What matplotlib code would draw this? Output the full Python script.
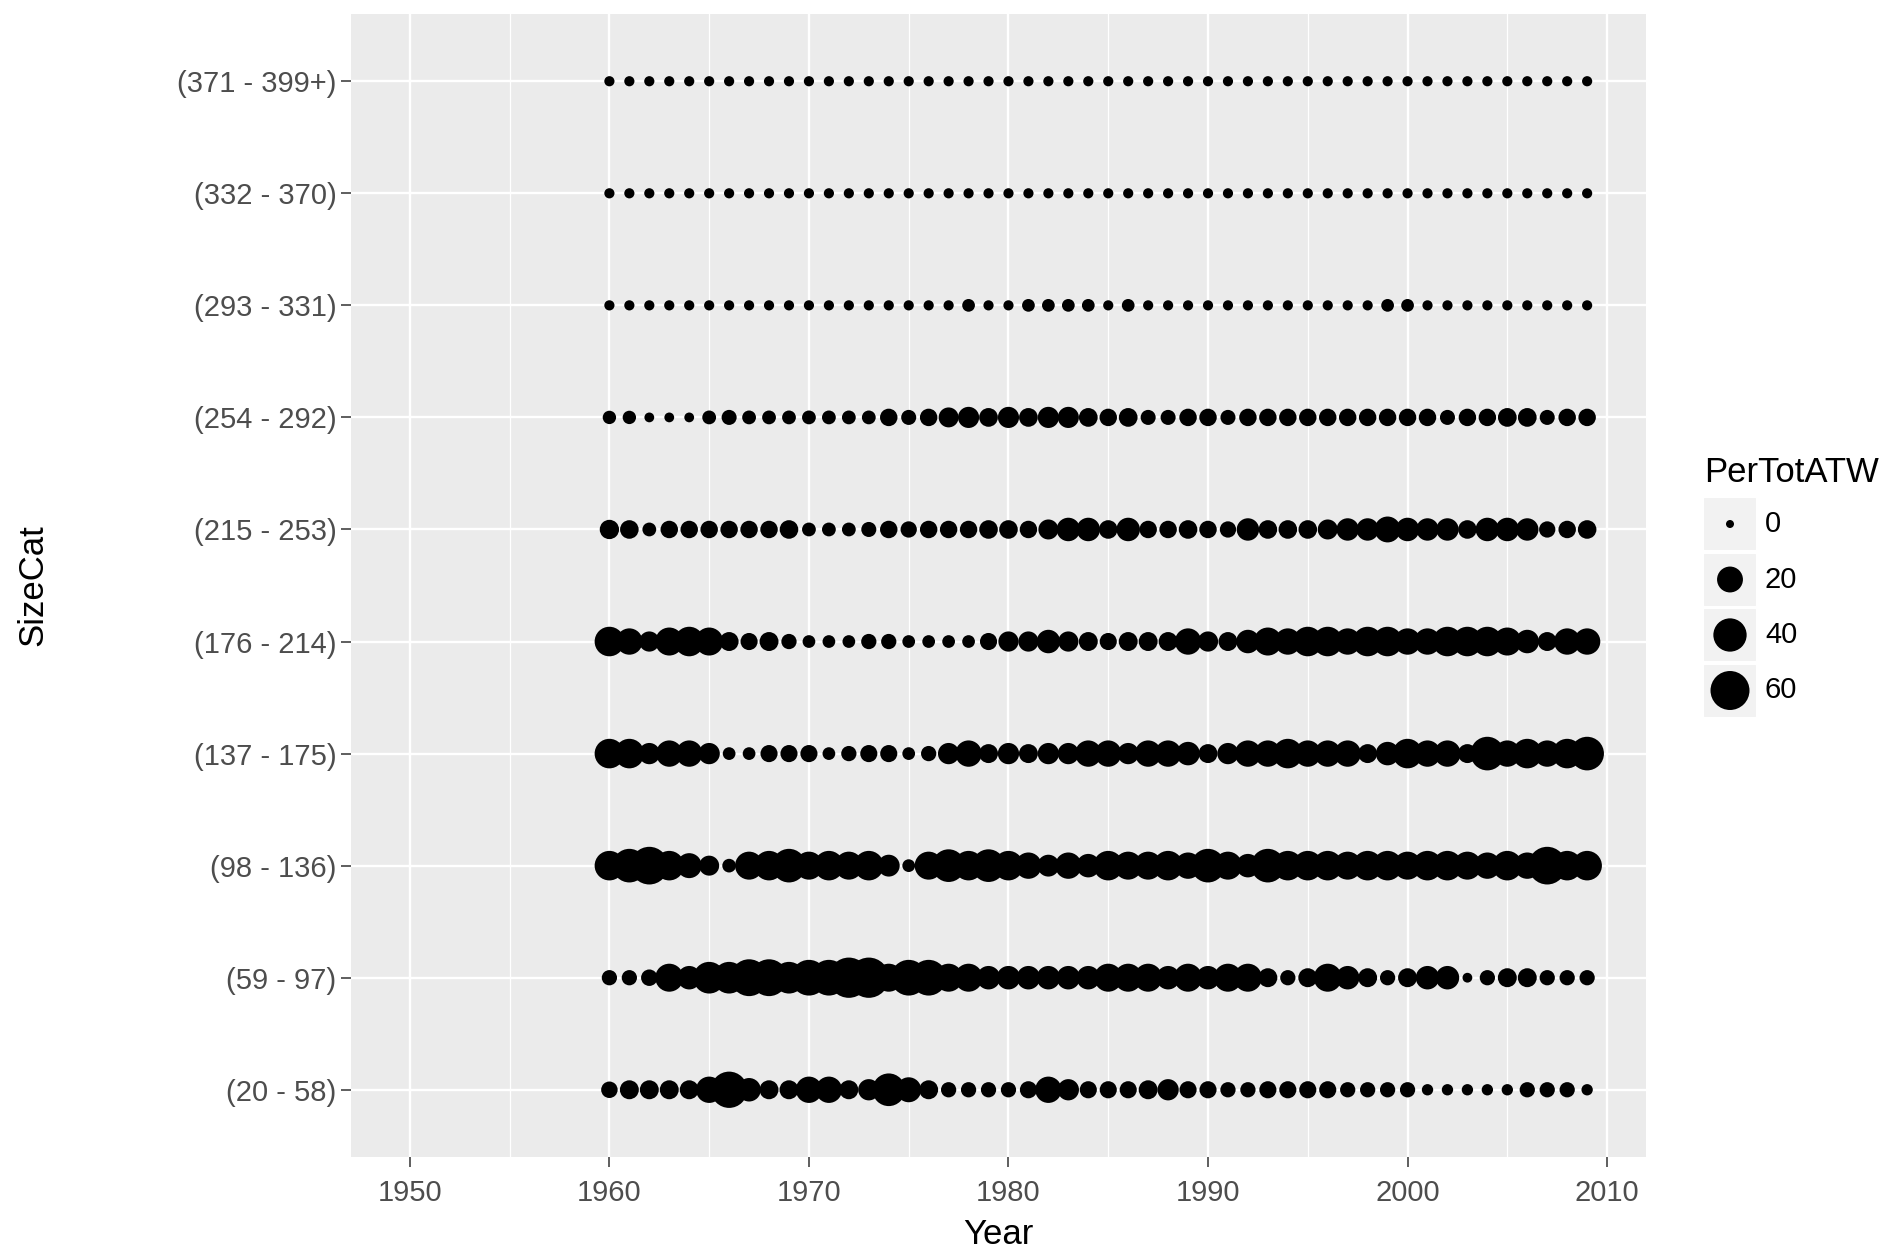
import numpy as np
import matplotlib
matplotlib.use("Agg")
import matplotlib.pyplot as plt
from matplotlib.patches import Rectangle

plt.rcParams['font.family'] = ['Liberation Sans', 'DejaVu Sans']

DPI = 100
W, H = 1896, 1254

years = list(range(1960, 2010))
size_cats = ["(20 - 58)", "(59 - 97)", "(98 - 136)", "(137 - 175)", "(176 - 214)",
             "(215 - 253)", "(254 - 292)", "(293 - 331)", "(332 - 370)", "(371 - 399+)"]

per_20_58 = [4.5, 7.5, 7.5, 7.5, 7.5, 21, 50, 15, 7.5, 7.5,
             21, 21, 7.5, 11, 38, 18, 7.5, 3.3, 3.3, 3.3,
             3.3, 5.2, 21, 11, 5.2, 5.2, 5.2, 7.5, 11, 5.2,
             5.2, 3.3, 3.3, 5.2, 5.2, 5.2, 5.2, 3.3, 3.3, 3.3,
             3.3, 0.7, 0.7, 0.7, 0.7, 0.7, 3.3, 3.3, 3.3, 0.7]
per_59_97 = [3.3, 3.3, 4.5, 25, 15, 35, 35, 52, 52, 35,
             48, 48, 65, 65, 25, 48, 48, 25, 25, 15,
             15, 15, 15, 15, 15, 25, 25, 25, 15, 25,
             15, 25, 25, 7.5, 3.3, 7.5, 25, 15, 7.5, 3.3,
             7.5, 15, 15, 0.2, 3.3, 7.5, 7.5, 3.3, 3.3, 3.3]
per_98_136 = [29, 41, 55, 29, 18, 9, 2, 25, 29, 41,
              25, 29, 25, 29, 12, 1.4, 25, 38, 29, 38,
              29, 21, 12, 21, 15, 29, 25, 25, 29, 21,
              41, 25, 15, 41, 29, 29, 29, 25, 29, 29,
              25, 29, 29, 25, 21, 29, 21, 55, 29, 29]
per_137_175 = [29, 29, 11, 21, 21, 11, 1.4, 1.4, 5.2, 5.2,
               5.2, 1.4, 3.3, 5.2, 5.2, 1.4, 3.3, 11, 21, 7.5,
               11, 7.5, 11, 11, 21, 21, 11, 21, 21, 15,
               7.5, 11, 21, 21, 29, 21, 21, 21, 7.5, 15,
               29, 21, 21, 7.5, 41, 21, 29, 21, 29, 41]
per_176_214 = [29, 21, 9.3, 25, 29, 25, 7.5, 5.2, 7.5, 3.3,
               1.4, 1.4, 1.4, 3.3, 3.3, 1.4, 1.4, 1.4, 1.4, 5.2,
               9.3, 9.3, 15, 9.3, 7.5, 5.2, 7.5, 7.5, 7.5, 21,
               9.3, 7.5, 15, 25, 21, 29, 29, 21, 29, 29,
               21, 21, 29, 29, 29, 25, 15, 7.5, 21, 21]
per_215_253 = [8, 7, 2.1, 5.6, 5.6, 5.6, 5.6, 5.6, 5.6, 7,
               2.1, 2.1, 2.1, 3.1, 5.6, 4.3, 5.6, 5.6, 5.6, 7,
               7, 5.6, 9, 15, 15, 7, 15, 5.6, 5.6, 7,
               5.6, 4.3, 13, 7, 7, 7, 9, 13, 13, 20,
               15, 13, 13, 7, 15, 15, 13, 4.3, 5.6, 7]
per_254_292 = [1.8, 1.8, 0.2, 0.2, 0.2, 2.1, 3.1, 2.1, 2.1, 2.1,
               2.1, 2.1, 2.1, 2.1, 5.6, 3.1, 5.6, 8.9, 10.8, 7.2,
               10.8, 7.2, 10.8, 10.8, 7.2, 5.6, 7.2, 3.1, 3.1, 5.6,
               5.6, 3.1, 5.6, 5.6, 5.6, 5.6, 5.6, 5.6, 5.6, 5.6,
               5.6, 5.6, 3.1, 5.6, 5.6, 7.2, 7.2, 3.1, 5.6, 5.6]
per_293_331 = [0.3, 0.3, 0.3, 0.3, 0.3, 0.3, 0.3, 0.3, 0.3, 0.3,
               0.3, 0.3, 0.3, 0.3, 0.3, 0.3, 0.3, 0.3, 1.4, 0.3,
               0.3, 1.4, 1.4, 1.4, 1.4, 0.3, 1.4, 0.3, 0.3, 0.3,
               0.3, 0.3, 0.3, 0.3, 0.3, 0.3, 0.3, 0.3, 0.3, 1.4,
               1.4, 0.3, 0.3, 0.3, 0.3, 0.3, 0.3, 0.3, 0.3, 0.3]
per_332_370 = [0.3] * 50
per_371_399 = [0.3] * 50

series = [per_20_58, per_59_97, per_98_136, per_137_175, per_176_214,
          per_215_253, per_254_292, per_293_331, per_332_370, per_371_399]

legend_breaks = [0, 20, 40, 60]
x_major = [1950, 1960, 1970, 1980, 1990, 2000, 2010]
x_minor = [1955, 1965, 1975, 1985, 1995, 2005]


def size_to_area(v):
    # ggplot-like area scale: diameter (pixels) grows with sqrt(value)
    d_px = 8.0 + 4.0 * np.sqrt(np.asarray(v, dtype=float))
    d_pt = d_px * 72.0 / DPI
    return d_pt ** 2


fig = plt.figure(figsize=(W / DPI, H / DPI), dpi=DPI)
fig.patch.set_facecolor('white')

pl, pr, pt_, pb = 351, 1646, 14, 1157
ax = fig.add_axes([pl / W, 1 - pb / H, (pr - pl) / W, (pb - pt_) / H])
ax.set_facecolor('#EBEBEB')
for s in ax.spines.values():
    s.set_visible(False)

xmin_d, xmax_d = 1950, 2009
ext = 0.05 * (xmax_d - xmin_d)
ax.set_xlim(xmin_d - ext, xmax_d + ext)
ax.set_ylim(0.4, len(size_cats) + 0.6)

ax.set_xticks(x_major)
ax.set_xticks(x_minor, minor=True)
ax.set_yticks(range(1, len(size_cats) + 1))
ax.set_yticklabels(size_cats)
ax.set_axisbelow(True)
ax.grid(which='major', color='white', linewidth=1.7)
ax.grid(which='minor', axis='x', color='white', linewidth=0.9)
ax.tick_params(which='major', length=7.5, width=1.1, color='#333333',
               labelsize=21, labelcolor='#4D4D4D', pad=3)
ax.tick_params(axis='x', which='major', pad=8)
ax.tick_params(which='minor', length=0)

for i, vals in enumerate(series):
    ax.scatter(years, [i + 1] * len(years), s=size_to_area(vals),
               color='black', edgecolors='none', zorder=3)

fig.text((pl + pr) / 2 / W, 1 - 1235 / H, 'Year', ha='center', va='center',
         fontsize=25, color='black')
fig.text(33 / W, 1 - (pt_ + pb) / 2 / H, 'SizeCat', ha='center', va='center',
         rotation=90, fontsize=25, color='black')

# legend
lax = fig.add_axes([0, 0, 1, 1])
lax.set_xlim(0, W)
lax.set_ylim(H, 0)
lax.axis('off')
lax.text(1704, 472, 'PerTotATW', ha='left', va='center', fontsize=25, color='black')
key_x0, key_w, key_h = 1703, 54, 54
key_top0 = 497
for j, b in enumerate(legend_breaks):
    y0 = key_top0 + j * 55.5
    lax.add_patch(Rectangle((key_x0, y0), key_w, key_h, facecolor='#F2F2F2',
                            edgecolor='white', linewidth=1.5, zorder=1))
    lax.scatter([key_x0 + key_w / 2], [y0 + key_h / 2], s=size_to_area(b),
                color='black', edgecolors='none', zorder=2)
    lax.text(key_x0 + key_w + 8, y0 + key_h / 2, str(b), ha='left', va='center',
             fontsize=21, color='black')

fig.savefig('out.png', dpi=DPI)
